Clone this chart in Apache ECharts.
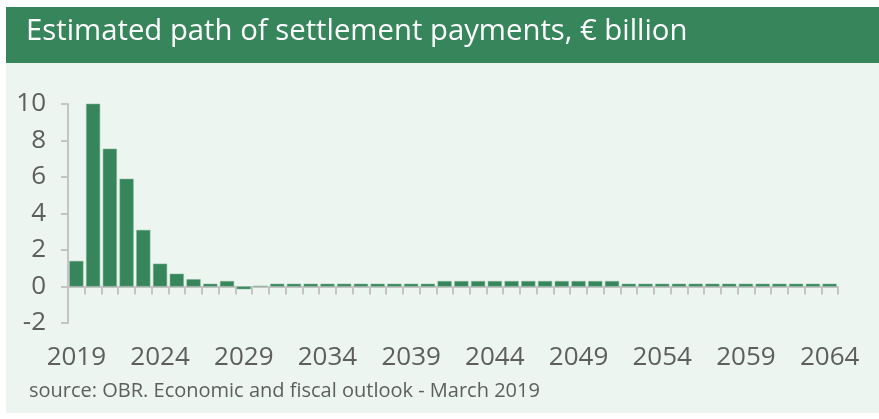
<!DOCTYPE html>
<html>
<head>
<meta charset="utf-8">
<script src="https://cdn.jsdelivr.net/npm/echarts@6/dist/echarts.min.js"></script>
<style>
html,body{margin:0;padding:0;background:#fff;}
#c{width:879px;height:419px;}
</style>
</head>
<body>
<div id="c"></div>
<script>
const years = [];
for (let y = 2019; y <= 2064; y++) years.push(String(y));
const payments = [
  1.4, 10.1, 7.55, 5.9, 3.1, 1.25, 0.7, 0.4, 0.15, 0.3,
  -0.15, 0.03, 0.15, 0.15, 0.15, 0.15, 0.15, 0.15, 0.15, 0.15,
  0.15, 0.15, 0.3, 0.3, 0.3, 0.3, 0.3, 0.3, 0.3, 0.3,
  0.3, 0.3, 0.3, 0.15, 0.15, 0.15, 0.15, 0.15, 0.15, 0.15,
  0.15, 0.15, 0.15, 0.15, 0.15, 0.15
];
const yTicks = { min: -2, max: 10, step: 2 };
const titleText = 'Estimated path of settlement payments, € billion';
const sourceText = 'source: OBR. Economic and fiscal outlook - March 2019';

const chart = echarts.init(document.getElementById('c'), null, { renderer: 'canvas' });
const green = '#36855B';
const gray = '#5E5E5E';
const axisGray = '#C4C4C4';
chart.setOption({
  animation: false,
  backgroundColor: '#ffffff',
  graphic: [
    { type: 'rect', z: -10, shape: { x: 6, y: 63, width: 873, height: 350 }, style: { fill: '#ECF5F0' } },
    { type: 'rect', z: -10, shape: { x: 6, y: 7, width: 873, height: 56 }, style: { fill: green } },
    { type: 'text', left: 26, top: 17, style: { text: titleText, fill: '#ffffff', font: '29.3px "Open Sans"' } },
    { type: 'text', left: 29, top: 381, style: { text: sourceText, fill: gray, font: '20px "Open Sans"' } }
  ],
  grid: { left: 68, right: 41, top: 104, bottom: 96, containLabel: false },
  xAxis: {
    type: 'category',
    data: years,
    boundaryGap: true,
    axisLine: { onZero: true, lineStyle: { color: axisGray, width: 2 } },
    axisTick: { show: true, interval: 0, length: 8, lineStyle: { color: axisGray, width: 2 } },
    axisLabel: { interval: 4, margin: 22, color: gray, fontSize: 26, fontFamily: 'Open Sans' },
    splitLine: { show: false }
  },
  yAxis: {
    type: 'value',
    min: yTicks.min, max: yTicks.max, interval: yTicks.step,
    axisLine: { show: true, lineStyle: { color: axisGray, width: 2 } },
    axisTick: { show: true, length: 7, lineStyle: { color: axisGray, width: 2 } },
    axisLabel: { margin: 22, color: gray, fontSize: 26, fontFamily: 'Open Sans' },
    splitLine: { show: false }
  },
  series: [{
    type: 'bar',
    data: payments,
    barCategoryGap: '16%',
    itemStyle: { color: green, borderColor: '#7FB295', borderWidth: 0.5 }
  }]
});
</script>
</body>
</html>
